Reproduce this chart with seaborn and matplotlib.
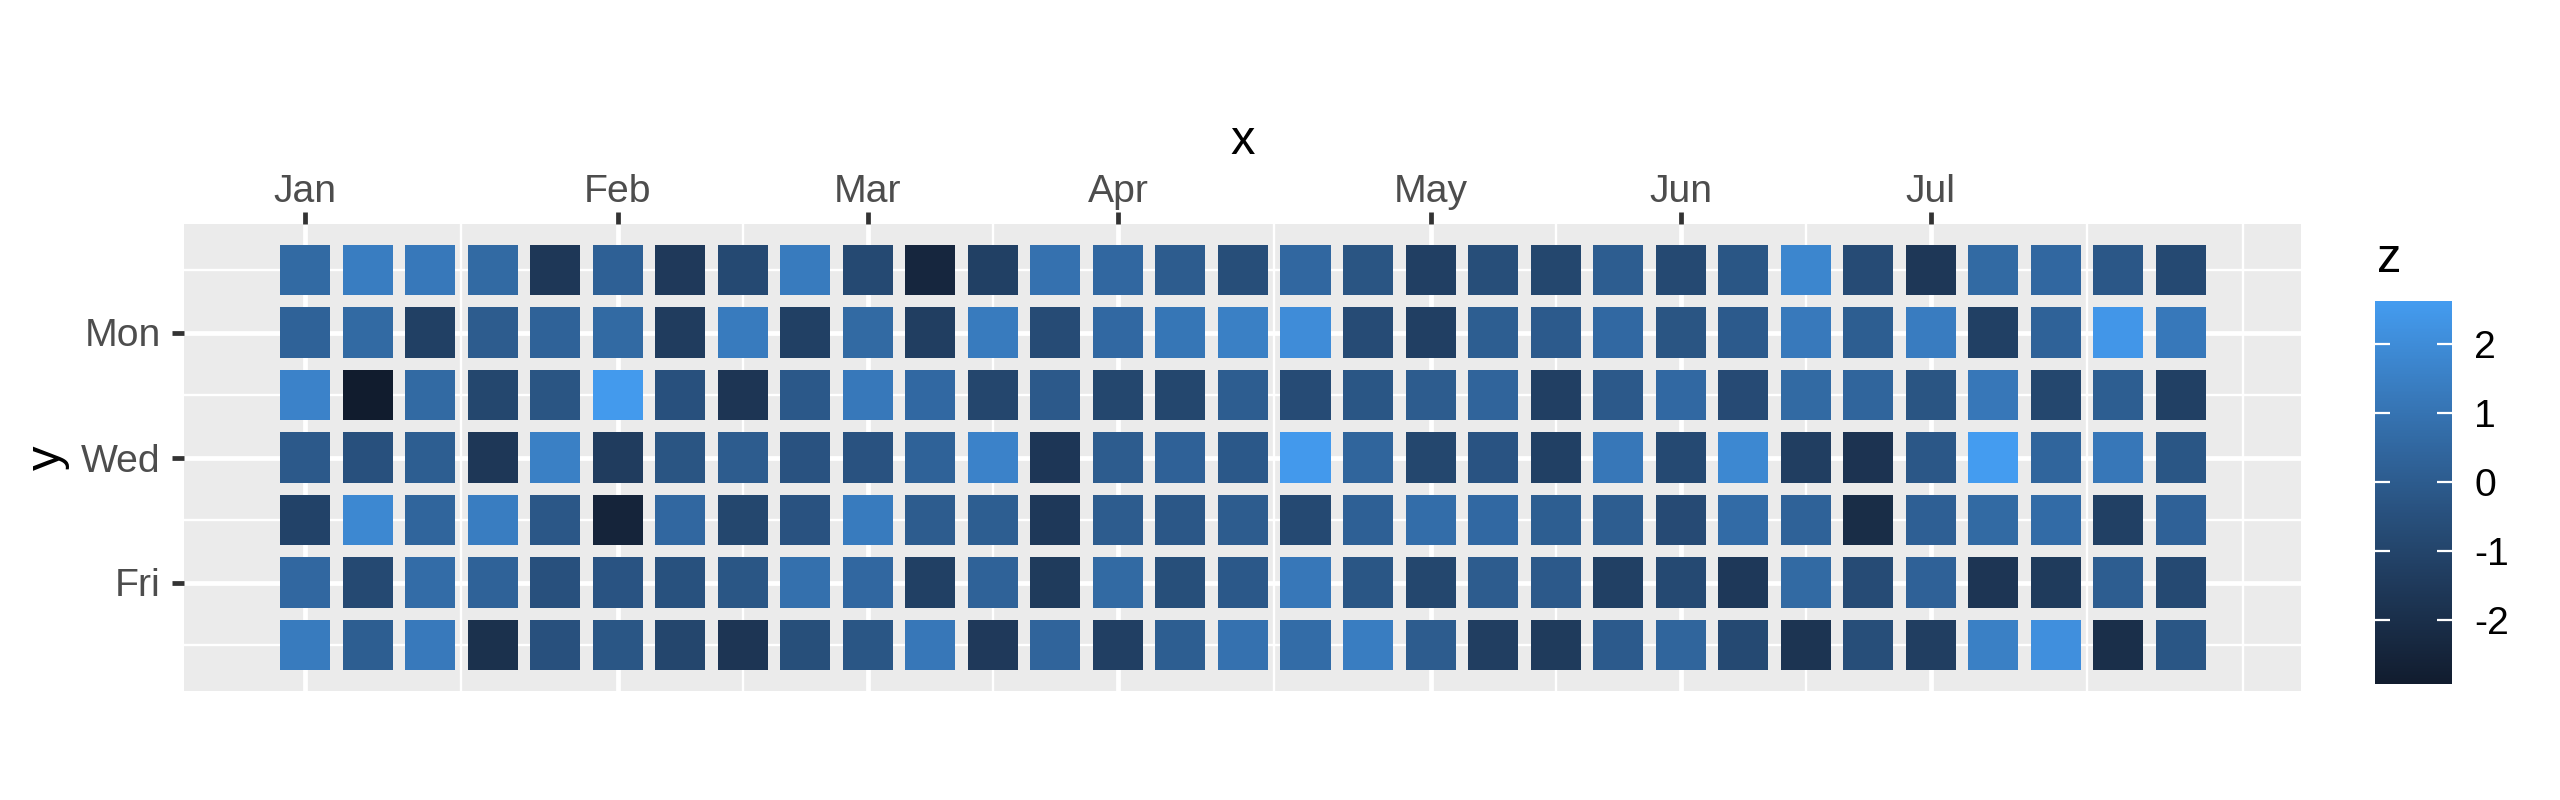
import numpy as np
import pandas as pd
import matplotlib
matplotlib.use("Agg")
import matplotlib.pyplot as plt
import seaborn as sns
from matplotlib.colors import ListedColormap, Normalize
from matplotlib.cm import ScalarMappable

# week columns and day rows (1 = Sun ... 7 = Sat)
weeks = list(range(1, 32))
days = list(range(1, 8))

z_sun = [0.6, 1.4, 1.2, 0.6, -1.6, 0.2, -1.5, -0.8,
         1.3, -0.8, -2.4, -1.2, 0.9, 0.5, 0.0, -0.6,
         0.5, -0.3, -1.25, -0.6, -0.9, 0.05, -0.8, -0.25,
         1.75, -0.7, -1.6, 0.6, 0.5, -0.2, -0.8]
z_mon = [0.3, 0.6, -1.2, 0.0, 0.3, 0.6, -1.4, 1.3,
         -1.2, 0.6, -1.3, 1.3, -0.7, 0.55, 1.1, 1.5,
         2.0, -0.7, -1.25, 0.1, -0.05, 0.55, -0.3, -0.05,
         1.25, 0.1, 1.35, -1.2, 0.3, 2.4, 1.2]
z_tue = [1.6, -2.93, 0.6, -0.9, -0.3, 2.55, -0.5, -1.7,
         -0.15, 1.2, 0.55, -0.95, -0.1, -0.9, -0.9, 0.05,
         -0.7, -0.25, 0.0, 0.35, -1.25, -0.1, 0.55, -0.75,
         0.6, 0.4, -0.3, 1.15, -0.9, 0.1, -1.2]
z_wed = [-0.1, -0.5, 0.1, -1.6, 1.5, -1.4, -0.3, 0.0,
         -0.4, -0.4, 0.3, 1.6, -1.65, 0.0, 0.25, -0.15,
         2.5, 0.4, -0.9, -0.35, -1.2, 1.15, -0.8, 1.8,
         -1.3, -1.8, -0.2, 2.62, 0.4, 1.15, -0.25]
z_thu = [-1.1, 1.8, 0.4, 1.4, -0.2, -2.5, 0.5, -0.9,
         -0.4, 1.3, 0.0, 0.1, -1.55, 0.0, -0.2, 0.0,
         -0.8, 0.2, 0.75, 0.55, 0.1, 0.05, -0.75, 0.65,
         0.3, -2.1, 0.15, 0.6, 0.65, -1.2, 0.25]
z_fri = [0.5, -0.8, 0.7, 0.3, -0.5, -0.35, -0.45, -0.25,
         0.85, 0.5, -1.2, 0.3, -1.45, 0.6, -0.55, -0.15,
         1.15, -0.25, -0.9, 0.0, -0.1, -1.2, -0.8, -1.55,
         0.6, -0.7, 0.25, -1.7, -1.45, 0.05, -0.8]
z_sat = [1.3, 0.1, 1.25, -1.9, -0.5, -0.25, -0.95, -1.7,
         -0.55, -0.25, 1.15, -1.5, 0.35, -1.25, 0.1, 0.9,
         0.7, 1.4, 0.0, -1.3, -1.45, -0.05, 0.4, -0.8,
         -1.75, -0.6, -1.3, 1.5, 2.1, -2.0, -0.25]

month_weeks = [1, 6, 10, 14, 19, 23, 27]
month_labels = ['Jan', 'Feb', 'Mar', 'Apr', 'May', 'Jun', 'Jul']
day_ticks = [2, 4, 6]
day_labels = ['Mon', 'Wed', 'Fri']

df = pd.DataFrame({
    'week': np.tile(weeks, len(days)),
    'day': np.repeat(days, len(weeks)),
    'z': np.concatenate([z_sun, z_mon, z_tue, z_wed, z_thu, z_fri, z_sat]),
})


# dark-to-light blue gradient, interpolated in CIELAB
M = np.array([[0.4124564, 0.3575761, 0.1804375],
              [0.2126729, 0.7151522, 0.0721750],
              [0.0193339, 0.1191920, 0.9503041]])
WHITE = np.array([0.95047, 1.0, 1.08883])


def hex_to_lab(h):
    rgb = np.array([int(h[i:i + 2], 16) for i in (1, 3, 5)]) / 255
    lin = np.where(rgb <= 0.04045, rgb / 12.92, ((rgb + 0.055) / 1.055) ** 2.4)
    xyz = M @ lin / WHITE
    f = np.where(xyz > 216 / 24389, np.cbrt(xyz), (24389 / 27 * xyz + 16) / 116)
    return np.array([116 * f[1] - 16, 500 * (f[0] - f[1]), 200 * (f[1] - f[2])])


def lab_to_rgb(lab):
    fy = (lab[:, 0] + 16) / 116
    f = np.stack([fy + lab[:, 1] / 500, fy, fy - lab[:, 2] / 200], axis=1)
    xyz = np.where(f ** 3 > 216 / 24389, f ** 3, (116 * f - 16) / (24389 / 27)) * WHITE
    lin = np.clip(xyz @ np.linalg.inv(M).T, 0, None)
    rgb = np.where(lin <= 0.0031308, 12.92 * lin, 1.055 * lin ** (1 / 2.4) - 0.055)
    return np.clip(rgb, 0, 1)


lo, hi = hex_to_lab('#111C2E'), hex_to_lab('#449CF0')
t = np.linspace(0, 1, 256)[:, None]
cmap = ListedColormap(lab_to_rgb(lo + (hi - lo) * t))
norm = Normalize(df['z'].min(), df['z'].max())

plt.rcParams['font.family'] = ['Liberation Sans', 'DejaVu Sans']
plt.rcParams['axes.unicode_minus'] = False

W, H, DPI = 2560, 800, 320
fig = plt.figure(figsize=(W / DPI, H / DPI), dpi=DPI)
px_l, px_r, px_t, px_b = 184, 2301, 224, 691
ax = fig.add_axes([px_l / W, 1 - px_b / H, (px_r - px_l) / W, (px_b - px_t) / H])
ax.set_facecolor('#EBEBEB')
xlim = (-0.935, 32.92)
ylim = (7.736, 0.264)
ax.set_xlim(*xlim)
ax.set_ylim(*ylim)

# gridlines (major + minor, ggplot style)
x_ext = month_weeks + [month_weeks[-1] + (month_weeks[1] - month_weeks[0])]
x_minor = [(a + b) / 2 for a, b in zip(x_ext[:-1], x_ext[1:])] + [x_ext[-1]]
y_minor = [1, 3, 5, 7]
for v in x_minor:
    ax.axvline(v, color='white', lw=0.53, zorder=1)
for v in y_minor:
    ax.axhline(v, color='white', lw=0.53, zorder=1)
for v in month_weeks:
    ax.axvline(v, color='white', lw=1.07, zorder=1)
for v in day_ticks:
    ax.axhline(v, color='white', lw=1.07, zorder=1)

# tiles: 0.8 of a data unit, expressed in points
unit_px = (px_r - px_l) / (xlim[1] - xlim[0])
side_pt = 0.8 * unit_px * 72 / DPI
sns.scatterplot(data=df, x='week', y='day', hue='z', palette=cmap, hue_norm=norm,
                marker='s', s=side_pt ** 2, linewidth=0, legend=False, ax=ax, zorder=3)

for s in ax.spines.values():
    s.set_visible(False)
ax.xaxis.tick_top()
ax.set_xticks(month_weeks, month_labels)
ax.set_yticks(day_ticks, day_labels)
ax.tick_params(axis='both', length=2.75, width=1.07, color='#333333',
               labelcolor='#4D4D4D', labelsize=8.8)
ax.tick_params(axis='x', pad=0.4)
ax.tick_params(axis='y', pad=2.5)
ax.xaxis.set_label_position('top')
ax.set_xlabel('x', fontsize=11, color='black')
ax.set_ylabel('y', fontsize=11, color='black')
ax.xaxis.set_label_coords(0.5, (px_b - 154) / (px_b - px_t))
ax.yaxis.set_label_coords((70 - px_l) / (px_r - px_l), 0.5)

# colourbar legend
cax = fig.add_axes([2375 / W, 1 - 684 / H, 77 / W, (684 - 301) / H])
cb = fig.colorbar(ScalarMappable(norm=norm, cmap=cmap), cax=cax)
cb.outline.set_visible(False)
cb.set_ticks([-2, -1, 0, 1, 2])
cax.tick_params(direction='in', length=3.4, width=0.5, color='white',
                left=True, right=True, labelsize=8.8, labelcolor='black', pad=5)
fig.text(2377 / W, 1 - 272 / H, 'z', fontsize=11, ha='left', va='baseline')

fig.savefig('out.png', dpi=DPI)
